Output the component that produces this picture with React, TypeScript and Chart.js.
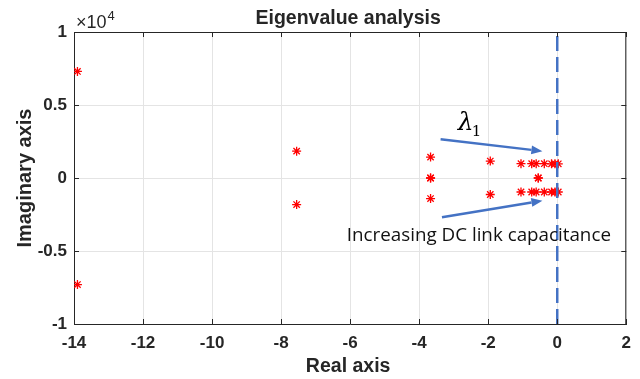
import React, { useEffect, useRef } from "react";
import { Chart, registerables } from "chart.js";

Chart.register(...registerables);

// Closed-loop eigenvalues: real part and imaginary part (rad/s)
const realParts = [
  -13.9, -13.9,
  -7.55, -7.55,
  -3.67, -3.67, -3.67, -3.67,
  -1.94, -1.94,
  -1.05, -1.05,
  -0.74, -0.74,
  -0.61, -0.61,
  -0.375, -0.375,
  -0.165, -0.165,
  -0.066, -0.066,
  0.03, 0.03,
  -0.55, -0.55,
];
const imagParts = [
  7300, -7300,
  1840, -1820,
  1430, -1410, 0, 0,
  1160, -1130,
  980, -960,
  980, -960,
  980, -960,
  980, -960,
  970, -960,
  970, -960,
  970, -960,
  0, 0,
];

// Stability boundary (imaginary axis)
const boundaryReal = [0, 0];
const boundaryImag = [-10000, 10000];

// Axis ranges and tick spacing
const xRange = [-14, 2];
const xStep = 2;
const yRange = [-10000, 10000];
const yStep = 5000;
const yExponent = 4;

// Text
const titleText = "Eigenvalue analysis";
const xLabel = "Real axis";
const yLabel = "Imaginary axis";
const noteText = "Increasing DC link capacitance";
const lambdaText = "λ";
const lambdaIndex = "1";

// Annotation arrows in data units: [x0, y0, x1, y1]
const arrowUpper = [-3.38, 2650, -0.43, 1840];
const arrowLower = [-3.34, -2690, -0.43, -1550];
const lambdaAt = [-2.88, 3300];
const noteAt = [-2.27, -4300];

const TEXT = "#262626";
const BLUE = "#4472C4";
const RED = "#ff0000";

export default function App() {
  const canvasRef = useRef<HTMLCanvasElement | null>(null);

  useEffect(() => {
    document.body.style.margin = "0";
    const canvas = canvasRef.current;
    if (!canvas) return;

    const annotations = {
      id: "annotations",
      afterDraw(chart: any) {
        const { ctx, chartArea: a, scales } = chart;
        const sx = scales.x;
        const sy = scales.y;
        const px = (v: number) => sx.getPixelForValue(v);
        const py = (v: number) => sy.getPixelForValue(v);

        ctx.save();

        // Box and inward ticks
        ctx.strokeStyle = TEXT;
        ctx.lineWidth = 1;
        ctx.beginPath();
        ctx.moveTo(a.left, a.top + 0.5);
        ctx.lineTo(a.right - 0.5, a.top + 0.5);
        ctx.lineTo(a.right - 0.5, a.bottom);
        ctx.stroke();
        const tl = 5;
        ctx.beginPath();
        for (let v = xRange[0]; v <= xRange[1]; v += xStep) {
          const x = Math.round(px(v)) + 0.5;
          ctx.moveTo(x, a.top);
          ctx.lineTo(x, a.top + tl);
          ctx.moveTo(x, a.bottom);
          ctx.lineTo(x, a.bottom - tl);
        }
        for (let v = yRange[0]; v <= yRange[1]; v += yStep) {
          const y = Math.round(py(v)) + 0.5;
          ctx.moveTo(a.left, y);
          ctx.lineTo(a.left + tl, y);
          ctx.moveTo(a.right, y);
          ctx.lineTo(a.right - tl, y);
        }
        ctx.stroke();

        // Title and axis labels
        ctx.fillStyle = TEXT;
        ctx.textAlign = "center";
        ctx.textBaseline = "alphabetic";
        const cx = (a.left + a.right) / 2 - 2;
        ctx.font = "bold 19.5px 'Liberation Sans', Arial, sans-serif";
        ctx.fillText(titleText, cx, 24);
        ctx.font = "bold 19.5px 'Liberation Sans', Arial, sans-serif";
        ctx.fillText(xLabel, cx, 372);
        ctx.save();
        ctx.translate(31, (a.top + a.bottom) / 2);
        ctx.rotate(-Math.PI / 2);
        ctx.font = "bold 20px 'Liberation Sans', Arial, sans-serif";
        ctx.fillText(yLabel, 0, 0);
        ctx.restore();

        // Exponent of the y axis
        ctx.textAlign = "left";
        ctx.font = "18px 'Liberation Sans', Arial, sans-serif";
        ctx.fillText("×10", a.left + 2, 28);
        const w = ctx.measureText("×10").width;
        ctx.font = "13px 'Liberation Sans', Arial, sans-serif";
        ctx.fillText(String(yExponent), a.left + 2 + w + 1, 20);

        // Arrows
        const arrow = (p: number[]) => {
          const x0 = px(p[0]), y0 = py(p[1]), x1 = px(p[2]), y1 = py(p[3]);
          const ang = Math.atan2(y1 - y0, x1 - x0);
          const hl = 11, hw = 4.5;
          const bx = x1 - hl * Math.cos(ang), by = y1 - hl * Math.sin(ang);
          ctx.strokeStyle = BLUE;
          ctx.fillStyle = BLUE;
          ctx.lineWidth = 2.5;
          ctx.beginPath();
          ctx.moveTo(x0, y0);
          ctx.lineTo(bx, by);
          ctx.stroke();
          ctx.beginPath();
          ctx.moveTo(x1, y1);
          ctx.lineTo(bx + hw * Math.sin(ang), by - hw * Math.cos(ang));
          ctx.lineTo(bx - hw * Math.sin(ang), by + hw * Math.cos(ang));
          ctx.closePath();
          ctx.fill();
        };
        arrow(arrowUpper);
        arrow(arrowLower);

        // Eigenvalue label
        ctx.fillStyle = "#000";
        ctx.textAlign = "left";
        ctx.font = "italic 25px 'DejaVu Serif', 'Liberation Serif', serif";
        const lx = px(lambdaAt[0]), ly = py(lambdaAt[1]);
        ctx.fillText(lambdaText, lx, ly);
        const lw = ctx.measureText(lambdaText).width;
        ctx.font = "15px 'DejaVu Serif', 'Liberation Serif', serif";
        ctx.fillText(lambdaIndex, lx + lw - 2, ly + 6);

        // Note
        ctx.textAlign = "center";
        ctx.fillStyle = "#111";
        ctx.font = "18.8px 'Open Sans', 'Noto Sans', sans-serif";
        ctx.fillText(noteText, px(noteAt[0]), py(noteAt[1]));

        ctx.restore();
      },
    };

    const tickFont = { family: "'Liberation Sans', Arial, sans-serif", size: 17, weight: "bold" as const };

    const chart = new Chart(canvas, {
      type: "scatter",
      data: {
        datasets: [
          {
            type: "line",
            data: boundaryReal.map((x, i) => ({ x, y: boundaryImag[i] })),
            borderColor: BLUE,
            borderWidth: 2.5,
            borderDash: [15, 6],
            pointRadius: 0,
            fill: false,
            order: 1,
          } as any,
          {
            data: realParts.map((x, i) => ({ x, y: imagParts[i] })),
            pointStyle: "star",
            pointRadius: 4.5,
            borderColor: RED,
            backgroundColor: RED,
            borderWidth: 1.3,
            order: 2,
          },
        ],
      },
      options: {
        animation: false,
        responsive: false,
        devicePixelRatio: 1,
        events: [],
        layout: { padding: { left: 0, right: 12, top: 32, bottom: 0 } },
        plugins: {
          legend: { display: false },
          title: { display: false },
          tooltip: { enabled: false },
        },
        scales: {
          x: {
            type: "linear",
            min: xRange[0],
            max: xRange[1],
            ticks: {
              stepSize: xStep,
              color: TEXT,
              font: tickFont,
              padding: 9,
              callback: (v: any) => String(v),
            },
            grid: { color: "#e4e4e4", drawTicks: false },
            border: { color: TEXT, width: 1 },
            afterFit: (s: any) => {
              s.height = 55;
            },
          },
          y: {
            type: "linear",
            min: yRange[0],
            max: yRange[1],
            ticks: {
              stepSize: yStep,
              color: TEXT,
              font: tickFont,
              padding: 7,
              callback: (v: any) => String(Number(v) / Math.pow(10, yExponent)),
            },
            grid: { color: "#e4e4e4", drawTicks: false },
            border: { color: TEXT, width: 1 },
            afterFit: (s: any) => {
              s.width = 74;
            },
          },
        },
      },
      plugins: [annotations],
    });

    return () => chart.destroy();
  }, []);

  return (
    <div style={{ position: "absolute", left: 0, top: 0, width: 640, height: 379, background: "#fff" }}>
      <canvas ref={canvasRef} width={640} height={379} />
    </div>
  );
}
